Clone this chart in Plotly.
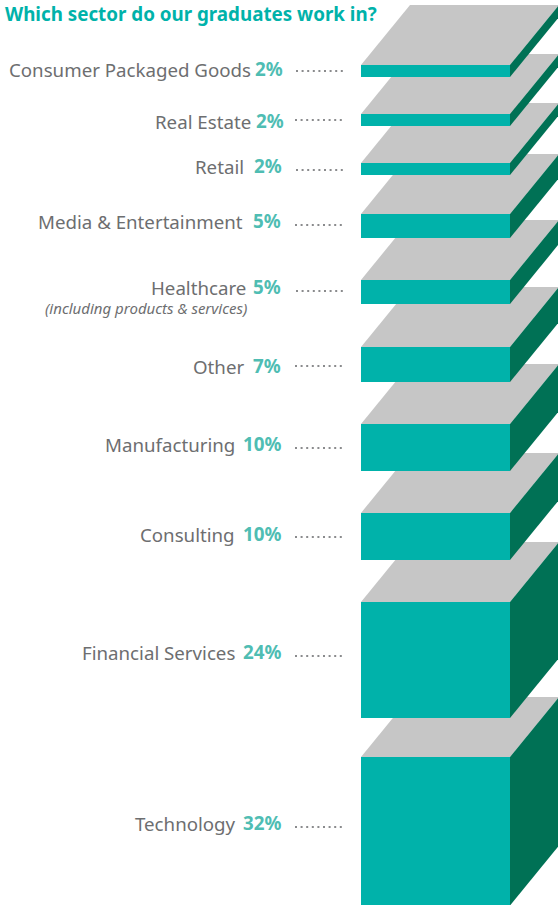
import plotly.graph_objects as go

# ---- data ----
sectors = ["Consumer Packaged Goods", "Real Estate", "Retail", "Media & Entertainment",
           "Healthcare", "Other", "Manufacturing", "Consulting", "Financial Services", "Technology"]
shares = [2, 2, 2, 5, 5, 7, 10, 10, 24, 32]
# block heights as drawn, in share points
drawn_heights = [2.55, 2.55, 2.55, 5.1, 5.1, 7.45, 10.0, 10.0, 24.7, 31.6]
note = "(including products & services)"
title = "Which sector do our graduates work in?"

# ---- layout ----
W, H = 558, 905
PX = 4.7            # pixels per share point on the y axis
FIRST_TOP = 65 / PX
GAPS = [37, 37, 39, 42, 43, 42, 42, 42, 39]   # px between blocks
FRONT_L, FRONT_R = 361, 510
DX, DY = 49, 60
NAME_RIGHT = [253, 253, 246, 245, 248, 246, 237, 237, 237, 238]
NAME_Y = [69.5, 121.5, 166.5, 221.5, 287.5, 366.5, 444.5, 534.5, 652.5, 823.5]
VAL_RIGHT = [285, 286, 284, 283, 283, 283, 283, 283, 283, 283]
VAL_Y = [69, 121, 166, 221, 287, 366, 444, 534, 652, 823]
DOT_L = [296, 295, 296, 295, 296, 295, 295, 295, 295, 295]
DOT_Y = [71, 120, 170, 225, 291, 366, 448, 537, 656, 827]

TEAL, DARK, GREY, TEXT, VAL = "#00b2aa", "#007155", "#c6c6c6", "#6d6e70", "#4fbdb3"
FONT = "Noto Sans"

tops, y = [], FIRST_TOP
for i, h in enumerate(drawn_heights):
    tops.append(y)
    if i < len(GAPS):
        y += h + GAPS[i] / PX

fig = go.Figure()
off = DY / PX


def poly(xs, ys, color):
    fig.add_trace(go.Scatter(x=xs, y=ys, mode="lines", fill="toself", fillcolor=color,
                             line=dict(width=0, color=color), hoverinfo="skip", showlegend=False))


for i in range(len(sectors) - 1, -1, -1):
    t, b = tops[i], tops[i] + drawn_heights[i]
    poly([FRONT_L, FRONT_R, FRONT_R + DX, FRONT_L + DX, FRONT_L], [t, t, t - off, t - off, t], GREY)
    poly([FRONT_R, FRONT_R + DX, FRONT_R + DX, FRONT_R, FRONT_R], [t, t - off, b - off, b, t], DARK)
    poly([FRONT_L, FRONT_R, FRONT_R, FRONT_L, FRONT_L], [t, t, b, b, t], TEAL)

for i, s in enumerate(sectors):
    fig.add_trace(go.Scatter(x=[DOT_L[i], DOT_L[i] + 49], y=[DOT_Y[i] / PX] * 2, mode="lines",
                             line=dict(color="#8a8b8d", width=2, dash="2px,3.6px"),
                             hoverinfo="skip", showlegend=False))
    fig.add_annotation(x=NAME_RIGHT[i], y=NAME_Y[i] / PX, text=s, showarrow=False, xanchor="right",
                       yanchor="middle", font=dict(family=FONT, size=18.7, color=TEXT))
    fig.add_annotation(x=VAL_RIGHT[i], y=VAL_Y[i] / PX, text=f"<b>{shares[i]}%</b>", showarrow=False,
                       xanchor="right", yanchor="middle", font=dict(family=FONT, size=18.8, color=VAL))

fig.add_annotation(x=249, y=308 / PX, text=f"<i>{note}</i>", showarrow=False, xanchor="right",
                   yanchor="middle", font=dict(family=FONT, size=15, color=TEXT))
fig.add_annotation(x=3, y=14 / PX, text=f"<b>{title}</b>", showarrow=False, xanchor="left",
                   yanchor="middle", font=dict(family=FONT, size=18.8, color=TEAL))

fig.update_layout(width=W, height=H, margin=dict(l=0, r=0, t=0, b=0), showlegend=False,
                  paper_bgcolor="white", plot_bgcolor="white",
                  xaxis=dict(range=[0, W], visible=False, fixedrange=True),
                  yaxis=dict(range=[H / PX, 0], visible=False, fixedrange=True))
fig.write_html("out.html", config={"displayModeBar": False},
               post_script="document.body.style.margin='0';document.body.style.overflow='hidden';")
